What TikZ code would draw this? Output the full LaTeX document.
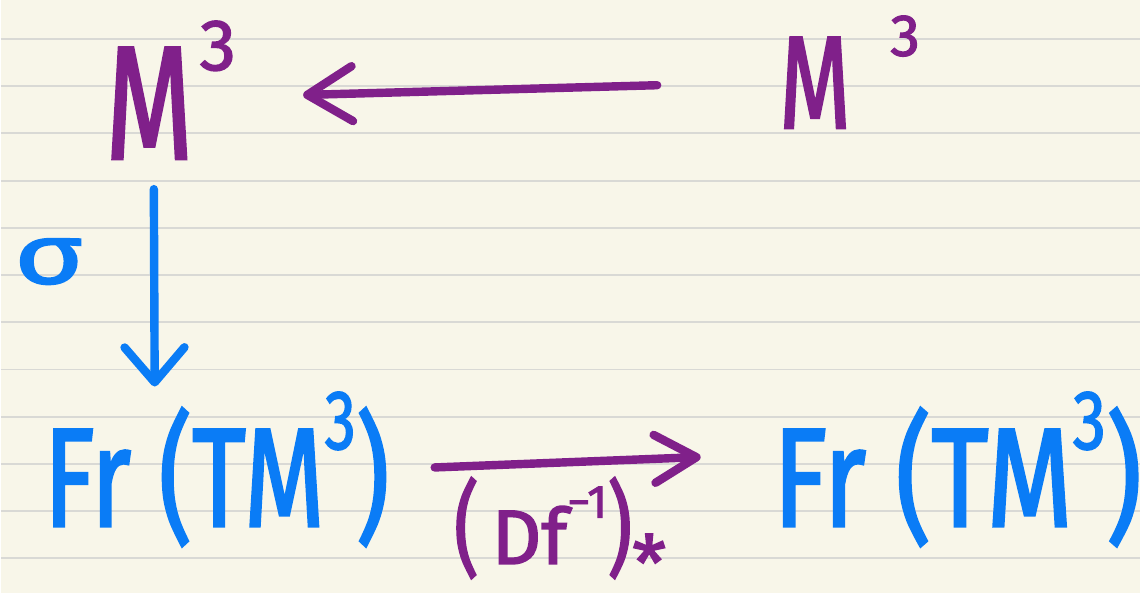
\documentclass[tikz,border=0pt]{standalone}
\usepackage{fontspec}
\setmainfont{Fira Sans}
\newfontfamily\handfont{Fira Sans}[FakeBold=2]
\usepackage{graphicx}
\usepackage{xcolor}
\definecolor{paper}{HTML}{F8F6E9}
\definecolor{rule}{HTML}{D9D9D5}
\definecolor{ink}{HTML}{80208A}
\definecolor{pen}{HTML}{0A7CF6}
\usetikzlibrary{arrows.meta}
\newcommand{\narrow}[2][0.7]{\scalebox{#1}[1]{#2}}
\newcommand{\hi}[2][.45]{\raisebox{.55em}{\scalebox{#1}{#2}}}

\begin{document}
\begin{tikzpicture}[x=0.02cm,y=-0.02cm,
  hand/.style={inner sep=0pt, font=\handfont\fontsize{#1}{#1}\selectfont},
  stroke/.style={line width=4.8pt, line cap=round, line join=round}]
  % paper
  \fill[paper] (0,0) rectangle (1141,594);
  \foreach \k in {0,...,11}
    \draw[rule, line width=1.1pt] (0,39+47.3*\k) -- (1141,39+47.3*\k);
  \useasboundingbox (0,0) rectangle (1141,594);

  % nodes
  \node[hand=92, text=ink] (mleft) at (170,90) {\narrow{M}\hspace{.04em}\hi{3}};
  \node[hand=75, text=ink] (mright) at (850,72) {\narrow{M}\hspace{.3em}\hi{3}};
  \node[hand=80, text=pen] (frleft) at (216,470) {\narrow[0.74]{Fr (TM\hi[.6]{3})}};
  \node[hand=80, text=pen] (frright) at (958,470) {\narrow[0.79]{Fr (TM\hi[.6]{3})}};
  \node[hand=48, text=pen] (sigma) at (48,262) {\scalebox{1.4}[1]{σ}};
  \node[hand=44, text=ink] (dfinv) at (560,535)
       {\scalebox{1}[1.33]{(}\,Df\raisebox{.6em}{\scalebox{.6}{−1}}\scalebox{1}[1.33]{)}\raisebox{-.35em}{*}};

  % arrows
  \draw[stroke, ink, -{Straight Barb[length=9mm,width=11mm,round]},
        shorten <=2.44cm, shorten >=1.34cm]
       ([yshift=-0.2cm]mright.west) -- ([yshift=-0.14cm]mleft.east);
  \draw[stroke, pen, -{Straight Barb[length=7mm,width=12mm,round]},
        shorten <=0.6cm, shorten >=0.1cm]
       ([xshift=-0.34cm]mleft.south) -- ([xshift=-1.24cm]frleft.north);
  \draw[stroke, ink, -{Straight Barb[length=8.4mm,width=9.6mm,round]},
        shorten <=0.9cm, shorten >=1.44cm]
       (frleft.east) -- ([yshift=0.3cm]frright.west);
\end{tikzpicture}
\end{document}
